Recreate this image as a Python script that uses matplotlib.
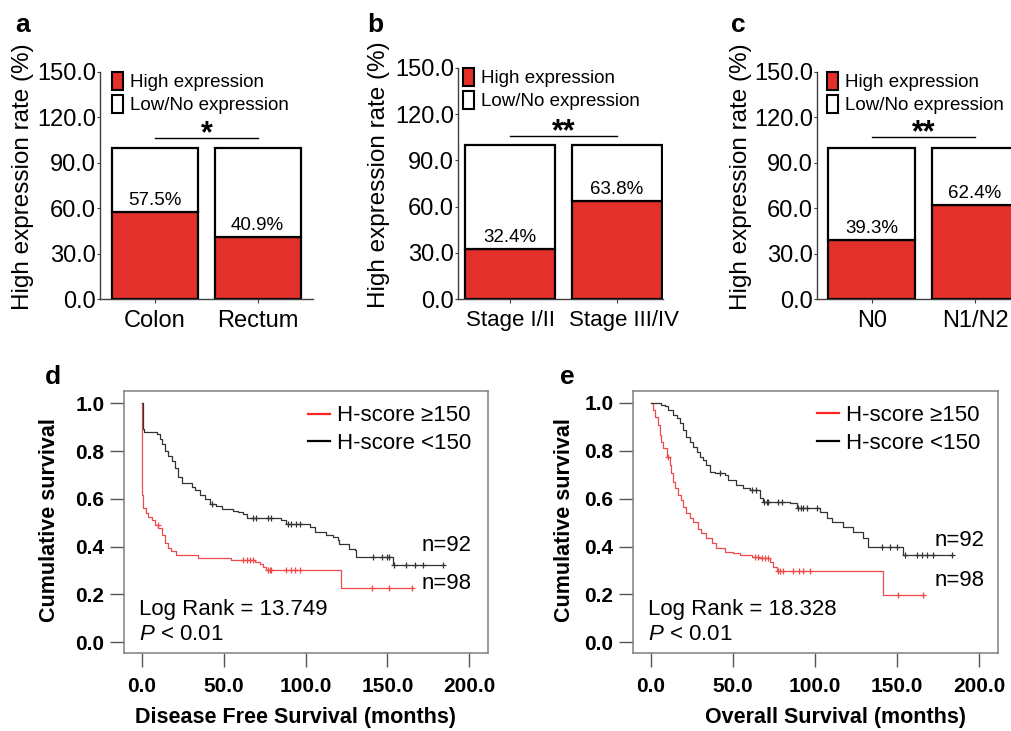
import matplotlib
matplotlib.use('Agg')
import matplotlib.pyplot as plt
import matplotlib.transforms as mtransforms
import numpy as np
from matplotlib.patches import Patch
from matplotlib.lines import Line2D

plt.rcParams['font.family'] = ['Liberation Sans', 'DejaVu Sans']
plt.rcParams['mathtext.fontset'] = 'custom'
plt.rcParams['mathtext.rm'] = 'Liberation Sans'
plt.rcParams['mathtext.it'] = 'Liberation Sans:italic'

RED = '#E3302A'
KM_RED = '#EE4A4A'
KM_BLACK = '#333333'

# ---- bar panels (a, b, c): high expression rate (%) ----
cats_a = ['Colon', 'Rectum']
high_a = np.array([57.5, 40.9])
cats_b = ['Stage I/II', 'Stage III/IV']
high_b = np.array([32.4, 63.8])
cats_c = ['N0', 'N1/N2']
high_c = np.array([39.3, 62.4])
sig_labels = ['*', '**', '**']
sig_heights = [106.4, 106.0, 107.0]

# ---- Kaplan-Meier panel d: disease free survival ----
d_high_t = [0, 0.3, 0.8, 2.5, 3.9, 5.9, 7.9, 10, 12, 14, 16, 18, 21, 34, 54.7,
            68.9, 72, 74, 76, 121.5]
d_high_s = [1.0, 0.615, 0.56, 0.54, 0.524, 0.51, 0.49, 0.476, 0.448, 0.414, 0.393,
            0.38, 0.364, 0.353, 0.343, 0.336, 0.326, 0.315, 0.301, 0.229]
d_high_end = 165
d_high_cens = [9.5, 61.8, 63.9, 65.9, 67.9, 77, 78, 79, 88.2, 91.2, 93.3, 96.3,
               140.7, 150.8]

d_low_t = [0, 0.4, 1.5, 8.9, 11, 12, 14, 16, 18.1, 20.1, 22.2, 24.2, 30.3, 32.3,
           35.4, 38.4, 41.5, 45.5, 48.6, 55.7, 58.7, 61.8, 63.9, 85.2, 88.2, 102.4,
           105.5, 112.6, 116.6, 119.7, 120.7, 126.8, 129.9, 130.9, 153.3]
d_low_s = [1.0, 0.89, 0.88, 0.87, 0.85, 0.83, 0.80, 0.78, 0.76, 0.727, 0.69, 0.665,
           0.65, 0.637, 0.616, 0.60, 0.58, 0.57, 0.556, 0.55, 0.545, 0.537, 0.52,
           0.51, 0.494, 0.48, 0.46, 0.447, 0.44, 0.427, 0.409, 0.392, 0.385, 0.357,
           0.322]
d_low_end = 183.7
d_low_cens = [42.5, 67.9, 69.9, 77, 79, 89.2, 91.2, 94.2, 96.3, 141, 147, 149.6,
              150.8, 154, 161.4, 167, 171.5]

# ---- Kaplan-Meier panel e: overall survival ----
e_high_t = [0, 1.4, 2.4, 4.5, 5.5, 6.5, 7.5, 9.6, 11.6, 12.6, 13.6, 14.6, 16.7,
            18.7, 19.7, 21.7, 23.8, 25.8, 28.9, 30.9, 33.9, 37, 40, 45.1, 50.2,
            54.3, 61.4, 66, 72.6, 74.6, 76.6, 141.2]
e_high_s = [1.0, 0.971, 0.943, 0.908, 0.866, 0.838, 0.81, 0.775, 0.741, 0.706,
            0.671, 0.643, 0.615, 0.594, 0.566, 0.538, 0.517, 0.503, 0.475, 0.455,
            0.434, 0.413, 0.392, 0.378, 0.371, 0.364, 0.357, 0.35, 0.336, 0.315,
            0.297, 0.197]
e_high_end = 166
e_high_cens = [10.6, 63.4, 65.4, 67.5, 69.5, 71.6, 77.6, 78.6, 80.7, 86.8, 90,
               93, 96.9, 150.8]

e_low_t = [0, 6.5, 8.5, 10.6, 13.6, 15.7, 17.7, 19.7, 21.7, 23.8, 25.8, 27.9,
           29.9, 31.9, 33.9, 36, 39, 45.1, 47.2, 52.2, 56.3, 60.4, 66.5, 68.5,
           84.8, 88.8, 103, 107.1, 110.1, 117.3, 123.4, 129.4, 132.5, 153.8]
e_low_s = [1.0, 0.992, 0.985, 0.971, 0.95, 0.936, 0.915, 0.887, 0.859, 0.838,
           0.817, 0.796, 0.775, 0.761, 0.741, 0.713, 0.706, 0.699, 0.678, 0.657,
           0.643, 0.636, 0.601, 0.587, 0.58, 0.559, 0.545, 0.517, 0.503, 0.482,
           0.461, 0.434, 0.399, 0.364]
e_low_end = 183.4
e_low_cens = [42.1, 61.4, 64.4, 68.9, 70.5, 71.6, 77.7, 79.7, 89.8, 91.5, 93,
              94.9, 101, 140.7, 145.7, 149.8, 154.9, 162, 165, 168.1, 172.1]

W, H = 1012, 731
fig = plt.figure(figsize=(W / 100, H / 100), dpi=100)


def px_axes(l, t, r, b):
    return fig.add_axes([l / W, 1 - b / H, (r - l) / W, (b - t) / H])


def bar_panel(ax, cats, high, sig, sig_y, xlim, leg_x, ylab_x, xfs=17):
    x = np.arange(len(cats))
    low = 100 - high
    ax.bar(x, high, width=0.84, color=RED, edgecolor='black', linewidth=1.6, zorder=2)
    ax.bar(x, low, bottom=high, width=0.84, color='white', edgecolor='black',
           linewidth=1.6, zorder=2)
    for xi, v in zip(x, high):
        ax.annotate('{:.1f}%'.format(v), (xi, v), xytext=(0, 2), textcoords='offset points',
                    ha='center', va='bottom', fontsize=13.5)
    ax.plot([0, 1], [sig_y, sig_y], color='black', lw=1)
    ax.annotate(sig, (0.5, sig_y), xytext=(0, -3), textcoords='offset points',
                ha='center', va='baseline', fontsize=22, fontweight='bold')
    ax.set_xlim(*xlim)
    ax.set_ylim(0, 150)
    ax.set_yticks(np.arange(0, 151, 30))
    ax.set_yticklabels(['{:.1f}'.format(v) for v in np.arange(0, 151, 30)])
    ax.set_xticks(x)
    ax.set_xticklabels(cats)
    ax.tick_params(axis='y', labelsize=17, length=2, pad=1, color='#404040')
    ax.tick_params(axis='x', labelsize=xfs, length=3, pad=5, color='#404040')
    for s in ['top', 'right']:
        ax.spines[s].set_visible(False)
    for s in ['left', 'bottom']:
        ax.spines[s].set_color('#404040')
        ax.spines[s].set_linewidth(1)
    ax.set_ylabel('High expression rate (%)', fontsize=17.5)
    ax.yaxis.set_label_coords(ylab_x, 0.54)
    handles = [Patch(facecolor=RED, edgecolor='black', linewidth=1.5),
               Patch(facecolor='white', edgecolor='black', linewidth=1.5)]
    ax.legend(handles, ['High expression', 'Low/No expression'], loc='upper left',
              bbox_to_anchor=(leg_x, 1.0), frameon=False, fontsize=13.5,
              handlelength=0.6, handleheight=1.1, handletextpad=0.35,
              labelspacing=0.2, borderpad=0, borderaxespad=0)


ax_a = px_axes(100, 72, 313, 299)
bar_panel(ax_a, cats_a, high_a, sig_labels[0], sig_heights[0], (-0.537, 1.54), 0.056, -0.31)
ax_b = px_axes(458, 68, 662.7, 299)
bar_panel(ax_b, cats_b, high_b, sig_labels[1], sig_heights[1], (-0.487, 1.43), 0.024, -0.332,
          xfs=16)
# second stage label sits a little right of its tick in the original
lab = ax_b.get_xticklabels()[1]
lab.set_transform(lab.get_transform() +
                  mtransforms.ScaledTranslation(7 / 100, 0, fig.dpi_scale_trans))
ax_c = px_axes(817, 72, 1026.7, 299)
bar_panel(ax_c, cats_c, high_c, sig_labels[2], sig_heights[2], (-0.53, 1.5), 0.048, -0.31)


def km_curve(ax, t, s, end, cens, color):
    tt = list(t) + [end]
    ss = list(s) + [s[-1]]
    ax.step(tt, ss, where='post', color=color, lw=0.9)
    cens = np.array(cens + [end])
    idx = np.searchsorted(np.array(t), cens, side='right') - 1
    ax.plot(cens, np.array(s)[idx], ls='none', marker='+', ms=5, mew=0.9, color=color)


def km_panel(ax, high, low, log_rank, xlabel, n_pos, xlab_x, ylab_x):
    km_curve(ax, *high, KM_RED)
    km_curve(ax, *low, KM_BLACK)
    ax.set_xlim(-11, 211.5)
    ax.set_ylim(-0.045, 1.051)
    ax.set_xticks(np.arange(0, 201, 50))
    ax.set_xticklabels(['{:.1f}'.format(v) for v in np.arange(0, 201, 50)])
    ax.set_yticks(np.arange(0, 1.01, 0.2))
    ax.set_yticklabels(['{:.1f}'.format(v) for v in np.arange(0, 1.01, 0.2)])
    ax.tick_params(axis='both', direction='out', length=10, width=1, color='#555555',
                   labelsize=15)
    ax.tick_params(axis='y', pad=4)
    ax.tick_params(axis='x', pad=7)
    for lab in ax.get_xticklabels() + ax.get_yticklabels():
        lab.set_fontweight('bold')
    for sp in ax.spines.values():
        sp.set_color('#808080')
        sp.set_linewidth(1.1)
    ax.set_xlabel(xlabel, fontsize=15.5, fontweight='bold')
    ax.xaxis.set_label_coords(xlab_x, -0.206)
    ax.set_ylabel('Cumulative survival', fontsize=15.5, fontweight='bold')
    ax.yaxis.set_label_coords(ylab_x, 0.508)
    handles = [Line2D([], [], color='#FF2222', lw=1.6), Line2D([], [], color='black', lw=1.6)]
    ax.legend(handles, ['H-score \u2265150', 'H-score <150'], loc='upper left',
              bbox_to_anchor=(0.505, 0.945), frameon=False, fontsize=16,
              handlelength=1.0, handletextpad=0.3, labelspacing=0.3,
              borderpad=0, borderaxespad=0)
    ax.text(n_pos[0], n_pos[1], 'n=92', fontsize=16, va='center', ha='left')
    ax.text(n_pos[0], n_pos[2], 'n=98', fontsize=16, va='center', ha='left')
    ax.text(-1.8, 0.138, 'Log Rank = {}'.format(log_rank), fontsize=16, va='center')
    ax.text(-1.8, 0.032, r'$\mathit{P}$ < 0.01', fontsize=16, va='center')


ax_d = px_axes(124, 391, 488, 653)
km_panel(ax_d, (d_high_t, d_high_s, d_high_end, d_high_cens),
         (d_low_t, d_low_s, d_low_end, d_low_cens), '13.749',
         'Disease Free Survival (months)', (170.7, 0.405, 0.245), 0.47, -0.176)
ax_e = px_axes(632.7, 390.7, 998, 653)
km_panel(ax_e, (e_high_t, e_high_s, e_high_end, e_high_cens),
         (e_low_t, e_low_s, e_low_end, e_low_cens), '18.328',
         'Overall Survival (months)', (173, 0.427, 0.259), 0.554, -0.158)

for letter, lx, ly in [('a', 23, 25), ('b', 375, 25), ('c', 738, 25),
                       ('d', 53, 377), ('e', 567, 377)]:
    fig.text(lx / W, 1 - ly / H, letter, fontsize=19, fontweight='bold',
             ha='center', va='center')

fig.savefig('out.png', dpi=100)
